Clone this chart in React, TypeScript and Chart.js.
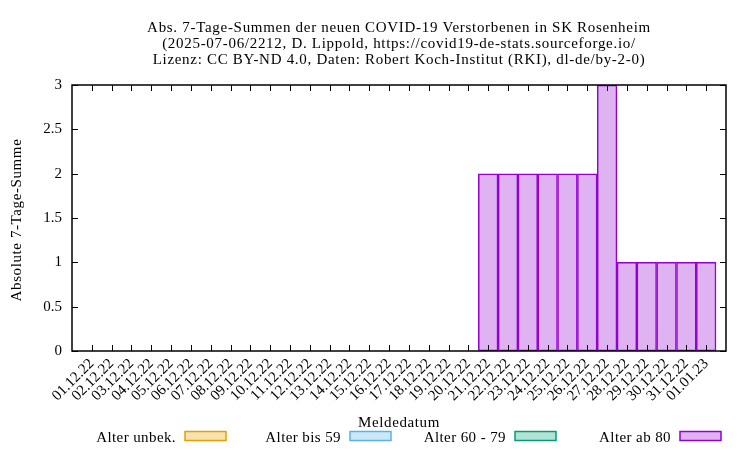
import React, { useEffect, useRef } from "react";
import { Chart, registerables } from "chart.js";

Chart.register(...registerables);

const TITLE_LINES = [
  "Abs. 7-Tage-Summen der neuen COVID-19 Verstorbenen in SK Rosenheim",
  "(2025-07-06/2212, D. Lippold, https://covid19-de-stats.sourceforge.io/",
  "Lizenz: CC BY-ND 4.0, Daten: Robert Koch-Institut (RKI), dl-de/by-2-0)",
];
const X_TITLE = "Meldedatum";
const Y_TITLE = "Absolute 7-Tage-Summe";

const DATES = [
  "01.12.22", "02.12.22", "03.12.22", "04.12.22", "05.12.22", "06.12.22", "07.12.22", "08.12.22",
  "09.12.22", "10.12.22", "11.12.22", "12.12.22", "13.12.22", "14.12.22", "15.12.22", "16.12.22",
  "17.12.22", "18.12.22", "19.12.22", "20.12.22", "21.12.22", "22.12.22", "23.12.22", "24.12.22",
  "25.12.22", "26.12.22", "27.12.22", "28.12.22", "29.12.22", "30.12.22", "31.12.22", "01.01.23",
];

const SERIES_NAMES = ["Alter unbek.", "Alter bis 59", "Alter 60 - 79", "Alter ab 80"];
const SERIES_COLORS = ["#e69f00", "#56b4e9", "#009e73", "#9400d3"];
const SERIES_FILLS = [
  "rgba(230,159,0,0.3)",
  "rgba(86,180,233,0.3)",
  "rgba(0,158,115,0.3)",
  "rgba(148,0,211,0.3)",
];

const UNBEK = [0,0,0,0,0,0,0,0,0,0,0,0,0,0,0,0,0,0,0,0,0,0,0,0,0,0,0,0,0,0,0,0];
const BIS59 = [0,0,0,0,0,0,0,0,0,0,0,0,0,0,0,0,0,0,0,0,0,0,0,0,0,0,0,0,0,0,0,0];
const A6079 = [0,0,0,0,0,0,0,0,0,0,0,0,0,0,0,0,0,0,0,0,0,0,0,0,0,0,0,0,0,0,0,0];
const AB80 = [0,0,0,0,0,0,0,0,0,0,0,0,0,0,0,0,0,0,0,0,2,2,2,2,2,2,3,1,1,1,1,1];

const Y_TICKS = [0, 0.5, 1, 1.5, 2, 2.5, 3];

const FONT = "'Liberation Serif', 'Times New Roman', serif";

const decorPlugin = {
  id: "decor",
  beforeDraw(chart: any) {
    const ctx = chart.ctx;
    ctx.save();
    ctx.fillStyle = "#ffffff";
    ctx.fillRect(0, 0, chart.width, chart.height);
    ctx.restore();
  },
  afterDatasetsDraw(chart: any) {
    const ctx = chart.ctx;
    const { left, right, top, bottom } = chart.chartArea;
    const xs = chart.scales.x;
    const ys = chart.scales.y;
    ctx.save();
    ctx.strokeStyle = "#000000";
    ctx.lineWidth = 1;
    ctx.beginPath();
    DATES.forEach((_, i) => {
      const x = Math.round(xs.getPixelForValue(i)) + 0.5;
      ctx.moveTo(x, bottom);
      ctx.lineTo(x, bottom - 6);
      ctx.moveTo(x, top);
      ctx.lineTo(x, top + 6);
    });
    Y_TICKS.forEach((v) => {
      const y = Math.round(ys.getPixelForValue(v)) + 0.5;
      ctx.moveTo(left, y);
      ctx.lineTo(left + 6, y);
      ctx.moveTo(right, y);
      ctx.lineTo(right - 6, y);
    });
    ctx.stroke();
    ctx.lineWidth = 1.5;
    ctx.strokeRect(left, top, right - left, bottom - top);
    ctx.restore();
  },
  afterDraw(chart: any) {
    const ctx = chart.ctx;
    const { left, right, top, bottom } = chart.chartArea;
    const cx = (left + right) / 2;
    ctx.save();
    ctx.fillStyle = "#000000";
    ctx.font = `15px ${FONT}`;
    ctx.textAlign = "center";
    ctx.textBaseline = "alphabetic";
    ctx.letterSpacing = "0.7px";
    TITLE_LINES.forEach((line, i) => {
      ctx.fillText(line, cx, 31.5 + i * 16.2);
    });
    ctx.letterSpacing = "0.6px";
    ctx.fillText(X_TITLE, cx, 427);
    ctx.save();
    ctx.translate(21, (top + bottom) / 2 + 2);
    ctx.rotate(-Math.PI / 2);
    ctx.fillText(Y_TITLE, 0, 0);
    ctx.restore();
    // legend
    ctx.letterSpacing = "0.4px";
    SERIES_NAMES.forEach((name, i) => {
      const sx = 185 + i * 165;
      const sy = 431.5;
      ctx.textAlign = "right";
      ctx.fillStyle = "#000000";
      ctx.fillText(name, sx - 9, 442);
      ctx.fillStyle = SERIES_FILLS[i];
      ctx.fillRect(sx, sy, 41, 9);
      ctx.strokeStyle = SERIES_COLORS[i];
      ctx.lineWidth = 1.5;
      ctx.strokeRect(sx, sy, 41, 9);
    });
    ctx.restore();
  },
};

export default function App() {
  const ref = useRef<HTMLCanvasElement | null>(null);
  useEffect(() => {
    if (!ref.current) return;
    const series = [UNBEK, BIS59, A6079, AB80];
    const chart = new Chart(ref.current, {
      type: "bar",
      data: {
        datasets: series.map((arr, si) => ({
          label: SERIES_NAMES[si],
          data: arr.map((v, i) => ({ x: i, y: v })),
          backgroundColor: SERIES_FILLS[si],
          borderColor: SERIES_COLORS[si],
          borderWidth: 1,
          inflateAmount: 0.25,
          borderSkipped: false,
          barPercentage: 1,
          categoryPercentage: 1,
        })),
      },
      options: {
        animation: false,
        responsive: false,
        maintainAspectRatio: false,
        devicePixelRatio: 1,
        layout: { padding: { top: 85, right: 24, left: 0, bottom: 0 } },
        plugins: {
          legend: { display: false },
          title: { display: false },
          tooltip: { enabled: false },
        },
        scales: {
          x: {
            type: "linear",
            stacked: true,
            offset: false,
            min: -1,
            max: 32,
            grid: { display: false, drawTicks: false, offset: false },
            border: { display: false },
            afterBuildTicks: (scale: any) => {
              scale.ticks = DATES.map((_, i) => ({ value: i }));
            },
            afterFit: (scale: any) => {
              scale.height = 99;
            },
            ticks: {
              autoSkip: false,
              minRotation: 45,
              maxRotation: 45,
              padding: 4,
              color: "#000000",
              font: { family: FONT, size: 15 },
              callback: (v: any) => DATES[v] ?? "",
            },
          },
          y: {
            type: "linear",
            stacked: true,
            min: 0,
            max: 3,
            grid: { display: false, drawTicks: false },
            border: { display: false },
            afterBuildTicks: (scale: any) => {
              scale.ticks = Y_TICKS.map((v) => ({ value: v }));
            },
            afterFit: (scale: any) => {
              scale.width = 72;
            },
            ticks: {
              padding: 10,
              color: "#000000",
              font: { family: FONT, size: 15 },
              callback: (v: any) => String(v),
            },
          },
        },
      },
      plugins: [decorPlugin],
    } as any);
    return () => chart.destroy();
  }, []);
  return (
    <div style={{ position: "fixed", left: 0, top: 0, width: 750, height: 450, background: "#fff" }}>
      <canvas ref={ref} width={750} height={450} style={{ width: 750, height: 450, display: "block" }} />
    </div>
  );
}
